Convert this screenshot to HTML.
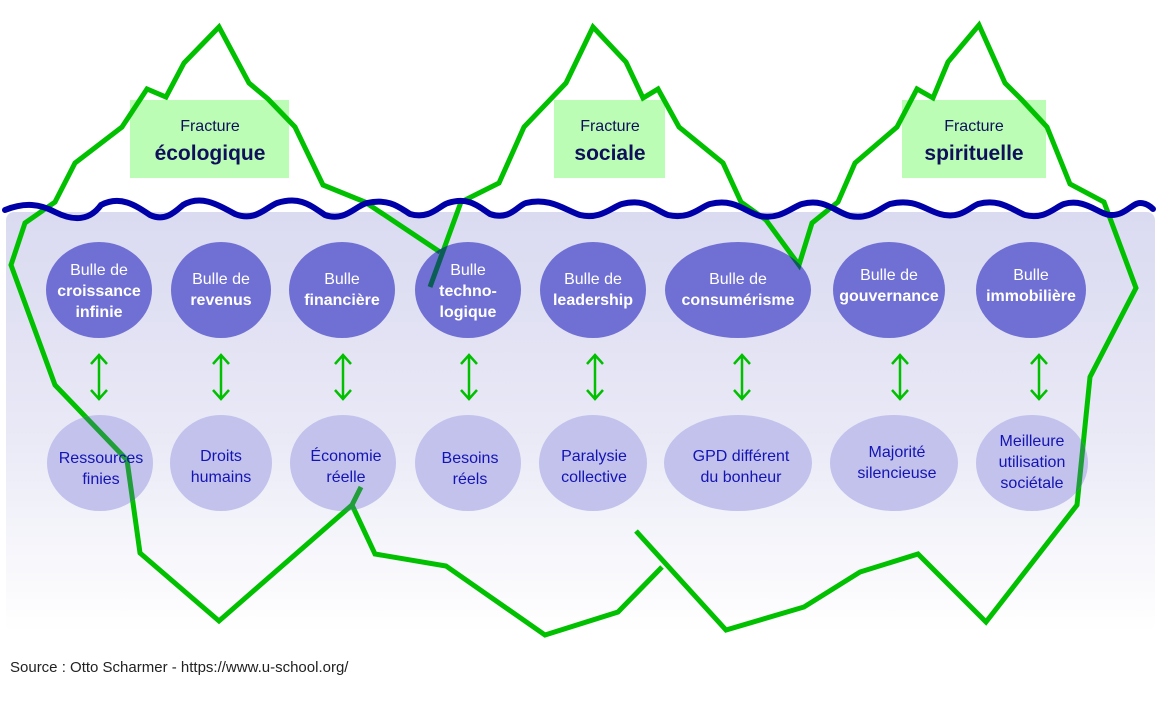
<!DOCTYPE html>
<html><head><meta charset="utf-8"><style>
html,body{margin:0;padding:0;background:#fff;}
svg{display:block;}
text{font-family:"Liberation Sans",sans-serif;}
</style></head><body>
<svg width="1175" height="702" viewBox="0 0 1175 702" xmlns="http://www.w3.org/2000/svg">
<defs>
<linearGradient id="wg" x1="0" y1="0" x2="0" y2="1">
<stop offset="0" stop-color="#dadaf1"/>
<stop offset="0.5" stop-color="#e8e8f6"/>
<stop offset="1" stop-color="#ffffff"/>
</linearGradient>
<g id="ice">
<polyline points="440,252 365,202 323,185 295,127 268,99 249,83 219,27 184,63 166,97 147,89 122,127 75,163 55,202 25,223 11,265 55,385 127,460 140,553 219,621 352,505 361,487"/>
<polyline points="352,505 375,554 446,566 545,635 618,612 662,567"/>
<polyline points="430,287 461,202 499,183 524,127 566,83 593,27 626,62 643,98 658,89 679,127 723,163 741,202 766,220 799,265 812,223 838,202 855,163 897,127 917,89 933,98 948,62 979,25 1005,83 1022,100 1047,127 1070,184 1104,202 1136,288 1090,377 1077,505 986,622 918,554 860,572 804,607 726,630 636,531"/>
</g>
<clipPath id="topc">
<ellipse cx="99" cy="290" rx="53" ry="48"/>
<ellipse cx="221" cy="290" rx="50" ry="48"/>
<ellipse cx="342" cy="290" rx="53" ry="48"/>
<ellipse cx="468" cy="290" rx="53" ry="48"/>
<ellipse cx="593" cy="290" rx="53" ry="48"/>
<ellipse cx="738" cy="290" rx="73" ry="48"/>
<ellipse cx="889" cy="290" rx="56" ry="48"/>
<ellipse cx="1031" cy="290" rx="55" ry="48"/>
</clipPath>
<clipPath id="botc">
<ellipse cx="100" cy="463" rx="53" ry="48"/>
<ellipse cx="221" cy="463" rx="51" ry="48"/>
<ellipse cx="343" cy="463" rx="53" ry="48"/>
<ellipse cx="468" cy="463" rx="53" ry="48"/>
<ellipse cx="593" cy="463" rx="54" ry="48"/>
<ellipse cx="738" cy="463" rx="74" ry="48"/>
<ellipse cx="894" cy="463" rx="64" ry="48"/>
<ellipse cx="1032" cy="463" rx="56" ry="48"/>
</clipPath>
</defs>
<rect x="6" y="212" width="1149" height="420" rx="8" fill="url(#wg)"/>

<rect x="130" y="100" width="159" height="78" fill="#bbfdb5"/>
<rect x="554" y="100" width="111" height="78" fill="#bbfdb5"/>
<rect x="902" y="100" width="144" height="78" fill="#bbfdb5"/>

<use href="#ice" fill="none" stroke="#00c000" stroke-width="5"/>

<path d="M5,210 C25,202 40,204 55,212 C75,222 90,220 101,205 C120,195 135,205 150,215 C165,222 175,212 183,205 C200,195 215,203 235,214 C255,222 265,208 277,203 C300,196 310,205 325,215 C345,222 355,206 367,203 C390,198 400,208 410,214 C430,220 440,205 448,203 C470,196 480,208 490,214 C510,221 518,205 526,203 C550,197 565,210 580,215 C600,220 612,207 622,204 C645,198 655,210 668,215 C690,220 700,207 710,204 C735,198 745,212 760,216 C780,220 792,207 802,204 C825,198 835,212 850,216 C870,220 880,208 890,204 C915,198 925,210 940,214 C960,220 970,207 978,204 C1000,198 1012,210 1025,215 C1045,220 1055,207 1064,204 C1085,198 1098,214 1110,215 C1125,216 1132,203 1140,203 C1146,203 1150,206 1153,209" fill="none" stroke="#0000a8" stroke-width="6" stroke-linecap="round"/>

<g fill="#7070d4">
<ellipse cx="99" cy="290" rx="53" ry="48"/>
<ellipse cx="221" cy="290" rx="50" ry="48"/>
<ellipse cx="342" cy="290" rx="53" ry="48"/>
<ellipse cx="468" cy="290" rx="53" ry="48"/>
<ellipse cx="593" cy="290" rx="53" ry="48"/>
<ellipse cx="738" cy="290" rx="73" ry="48"/>
<ellipse cx="889" cy="290" rx="56" ry="48"/>
<ellipse cx="1031" cy="290" rx="55" ry="48"/>
</g>
<g fill="#c2c2ec">
<ellipse cx="100" cy="463" rx="53" ry="48"/>
<ellipse cx="221" cy="463" rx="51" ry="48"/>
<ellipse cx="343" cy="463" rx="53" ry="48"/>
<ellipse cx="468" cy="463" rx="53" ry="48"/>
<ellipse cx="593" cy="463" rx="54" ry="48"/>
<ellipse cx="738" cy="463" rx="74" ry="48"/>
<ellipse cx="894" cy="463" rx="64" ry="48"/>
<ellipse cx="1032" cy="463" rx="56" ry="48"/>
</g>
<g clip-path="url(#topc)"><use href="#ice" fill="none" stroke="#0b5e55" stroke-width="5"/></g>
<g clip-path="url(#botc)"><use href="#ice" fill="none" stroke="#1f9e3a" stroke-width="5"/></g>

<g fill="none" stroke="#00c000" stroke-width="2.5">
<path d="M99,356 V398 M91,364 L99,355 L107,364 M91,390 L99,399 L107,390"/>
<path d="M221,356 V398 M213,364 L221,355 L229,364 M213,390 L221,399 L229,390"/>
<path d="M343,356 V398 M335,364 L343,355 L351,364 M335,390 L343,399 L351,390"/>
<path d="M469,356 V398 M461,364 L469,355 L477,364 M461,390 L469,399 L477,390"/>
<path d="M595,356 V398 M587,364 L595,355 L603,364 M587,390 L595,399 L603,390"/>
<path d="M742,356 V398 M734,364 L742,355 L750,364 M734,390 L742,399 L750,390"/>
<path d="M900,356 V398 M892,364 L900,355 L908,364 M892,390 L900,399 L908,390"/>
<path d="M1039,356 V398 M1031,364 L1039,355 L1047,364 M1031,390 L1039,399 L1047,390"/>
</g>

<g text-anchor="middle" fill="#10105a">
<text x="210" y="131" font-size="16">Fracture</text>
<text x="210" y="160" font-size="21" font-weight="bold">écologique</text>
<text x="610" y="131" font-size="16">Fracture</text>
<text x="610" y="160" font-size="21" font-weight="bold">sociale</text>
<text x="974" y="131" font-size="16">Fracture</text>
<text x="974" y="160" font-size="21" font-weight="bold">spirituelle</text>
</g>

<g text-anchor="middle" fill="#fff" font-size="16">
<text x="99" y="275">Bulle de</text>
<text x="99" y="296" font-weight="bold">croissance</text>
<text x="99" y="317" font-weight="bold">infinie</text>
<text x="221" y="284">Bulle de</text>
<text x="221" y="305" font-weight="bold">revenus</text>
<text x="342" y="284">Bulle</text>
<text x="342" y="305" font-weight="bold">financière</text>
<text x="468" y="275">Bulle</text>
<text x="468" y="296" font-weight="bold">techno-</text>
<text x="468" y="317" font-weight="bold">logique</text>
<text x="593" y="284">Bulle de</text>
<text x="593" y="305" font-weight="bold">leadership</text>
<text x="738" y="284">Bulle de</text>
<text x="738" y="305" font-weight="bold">consumérisme</text>
<text x="889" y="280">Bulle de</text>
<text x="889" y="301" font-weight="bold">gouvernance</text>
<text x="1031" y="280">Bulle</text>
<text x="1031" y="301" font-weight="bold">immobilière</text>
</g>

<g text-anchor="middle" fill="#1414b4" font-size="16">
<text x="101" y="463">Ressources</text>
<text x="101" y="484">finies</text>
<text x="221" y="461">Droits</text>
<text x="221" y="482">humains</text>
<text x="346" y="461">Économie</text>
<text x="346" y="482">réelle</text>
<text x="470" y="463">Besoins</text>
<text x="470" y="484">réels</text>
<text x="594" y="461">Paralysie</text>
<text x="594" y="482">collective</text>
<text x="741" y="461">GPD différent</text>
<text x="741" y="482">du bonheur</text>
<text x="897" y="457">Majorité</text>
<text x="897" y="478">silencieuse</text>
<text x="1032" y="446">Meilleure</text>
<text x="1032" y="467">utilisation</text>
<text x="1032" y="488">sociétale</text>
</g>

<text x="10" y="672" font-size="15" fill="#222">Source : Otto Scharmer - https://www.u-school.org/</text>
</svg>
</body></html>
